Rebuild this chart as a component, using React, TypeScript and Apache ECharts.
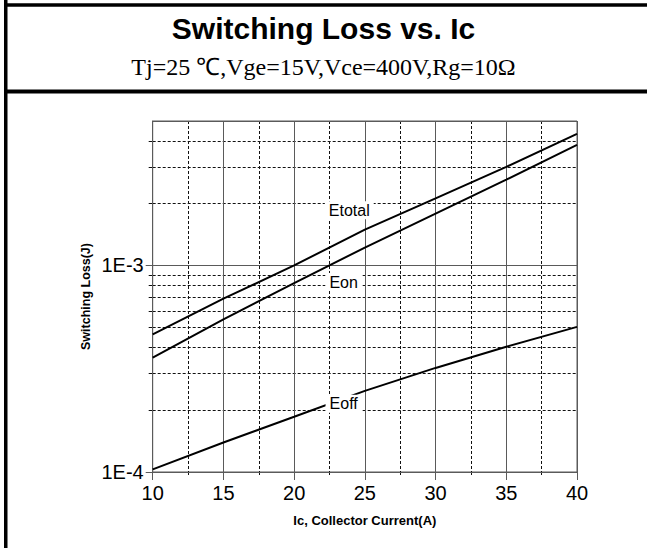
import React, { useEffect, useRef } from "react";
import * as echarts from "echarts";

const currents = [10, 15, 20, 25, 30, 35, 40];
const eTotal = [4.64e-4, 6.9e-4, 1.0e-3, 1.49e-3, 2.11e-3, 3.0e-3, 4.33e-3];
const eOn = [3.58e-4, 5.48e-4, 8.2e-4, 1.22e-3, 1.78e-3, 2.6e-3, 3.83e-3];
const eOff = [1.03e-4, 1.39e-4, 1.85e-4, 2.47e-4, 3.19e-4, 4.04e-4, 5.04e-4];
const seriesNames = ["Etotal", "Eon", "Eoff"];
const labelAnchors = [
  [23.9, 1.85e-3],
  [23.5, 8.3e-4],
  [23.5, 2.14e-4],
];
const xMinorValues = [12.5, 17.5, 22.5, 27.5, 32.5, 37.5];
const yMinorValues = [2e-4, 3e-4, 4e-4, 5e-4, 6e-4, 7e-4, 8e-4, 9e-4, 2e-3, 3e-3, 4e-3];

const titleText = "Switching Loss vs. Ic";
const subtitleText = "Tj=25 ℃,Vge=15V,Vce=400V,Rg=10Ω";

const SANS = "'Liberation Sans', Arial, sans-serif";
const SERIF = "'Liberation Serif', 'Times New Roman', serif";
const GRID = "#5a5a5a";

export default function App() {
  const ref = useRef<HTMLDivElement>(null);
  useEffect(() => {
    if (!ref.current) return;
    const chart = echarts.init(ref.current, undefined, { renderer: "svg" });
    const allSeries = [eTotal, eOn, eOff];
    const fmtLog = (v: number) => {
      const l = Math.log10(v);
      const e = Math.round(l);
      return Math.abs(l - e) < 1e-6 ? "1E" + e : "";
    };
    chart.setOption({
      animation: false,
      backgroundColor: "#fff",
      title: [
        {
          text: titleText,
          left: "center",
          top: 8,
          textStyle: { fontFamily: SANS, fontWeight: "bold", fontSize: 30, color: "#000" },
        },
        {
          text: subtitleText,
          left: "center",
          top: 50,
          textStyle: { fontFamily: SERIF, fontWeight: "normal", fontSize: 24, color: "#000" },
        },
      ],
      graphic: [
        { type: "rect", shape: { x: 4, y: 0, width: 3.5, height: 548 }, style: { fill: "#000" } },
        { type: "rect", shape: { x: 4, y: 3.3, width: 643, height: 3.5 }, style: { fill: "#000" } },
        { type: "rect", shape: { x: 4, y: 89.5, width: 643, height: 4 }, style: { fill: "#000" } },
      ],
      grid: {
        left: 152.7,
        right: 70,
        top: 121,
        bottom: 76,
        show: true,
        borderColor: GRID,
        borderWidth: 1,
        backgroundColor: "transparent",
      },
      xAxis: [
        {
          type: "value",
          min: 10,
          max: 40,
          interval: 5,
          name: "Ic, Collector Current(A)",
          nameLocation: "middle",
          nameGap: 42,
          nameMoveOverlap: false,
          nameTextStyle: { fontFamily: SANS, fontWeight: "bold", fontSize: 13, color: "#000" },
          axisLine: { show: true, lineStyle: { color: GRID, width: 1 } },
          axisTick: { show: true, length: 8, lineStyle: { color: GRID } },
          axisLabel: { fontFamily: SANS, fontSize: 20, color: "#000", margin: 11 },
          splitLine: { show: true, lineStyle: { color: GRID, width: 1, type: "solid" } },
          z: 2,
        },
        {
          type: "value",
          min: 10,
          max: 40,
          position: "bottom",
          axisLine: { show: false },
          axisLabel: { show: false },
          axisTick: { show: true, length: 3, customValues: xMinorValues, lineStyle: { color: "#111" } },
          splitLine: { show: true, lineStyle: { color: "#111", width: 1, type: [3, 2] } },
          z: 1,
        },
      ],
      yAxis: [
        {
          type: "log",
          logBase: 10,
          min: 1e-4,
          max: 5e-3,
          name: "Switching Loss(J)",
          nameLocation: "middle",
          nameGap: 60,
          nameMoveOverlap: false,
          nameRotate: 90,
          nameTextStyle: { fontFamily: SANS, fontWeight: "bold", fontSize: 12.5, color: "#000" },
          axisLine: { show: true, lineStyle: { color: GRID, width: 1 } },
          axisTick: { show: true, length: 7, lineStyle: { color: GRID } },
          axisLabel: { fontFamily: SANS, fontSize: 20, color: "#000", margin: 9, formatter: fmtLog, showMaxLabel: false },
          splitLine: { show: true, lineStyle: { color: GRID, width: 1, type: "solid" } },
          z: 2,
        },
        {
          type: "log",
          logBase: 10,
          min: 1e-4,
          max: 5e-3,
          position: "left",
          axisLine: { show: false },
          axisLabel: { show: false },
          axisTick: { show: true, length: 4, customValues: yMinorValues, lineStyle: { color: "#111" } },
          splitLine: { show: true, lineStyle: { color: "#111", width: 1, type: [3, 2] } },
          z: 1,
        },
      ],
      series: [
        ...allSeries.map((vals, i) => ({
          name: seriesNames[i],
          type: "line",
          xAxisIndex: 0,
          yAxisIndex: 0,
          showSymbol: false,
          symbol: "none",
          lineStyle: { color: "#000", width: 2 },
          data: currents.map((c, j) => [c, vals[j]]),
          z: 3,
        })),
        {
          type: "scatter",
          xAxisIndex: 0,
          yAxisIndex: 0,
          symbolSize: 1,
          itemStyle: { color: "#fff", opacity: 1 },
          emphasis: { disabled: true },
          z: 5,
          data: labelAnchors.map((p, i) => ({ value: p, name: seriesNames[i] })),
          label: {
            show: true,
            position: "inside",
            formatter: (p: any) => p.name,
            fontFamily: SANS,
            fontSize: 16,
            color: "#000",
            opacity: 1,
            backgroundColor: "#fff",
            padding: [1, 4],
          },
        },
      ],
    });
    return () => chart.dispose();
  }, []);
  return (
    <div
      ref={ref}
      style={{ position: "fixed", left: 0, top: 0, width: 647, height: 548, background: "#fff" }}
    />
  );
}
